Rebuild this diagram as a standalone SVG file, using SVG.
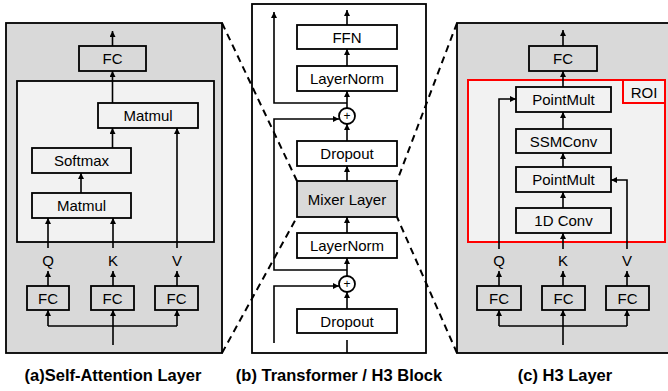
<svg xmlns="http://www.w3.org/2000/svg" width="668" height="391" viewBox="0 0 668 391">
<defs>
<marker id="ah" viewBox="0 0 6 6" refX="6" refY="3" markerWidth="6" markerHeight="6" markerUnits="userSpaceOnUse" orient="auto">
<path d="M0,0 L6,3 L0,6 z" fill="#000"/>
</marker>
<style>
.box{stroke:#000;stroke-width:1.8}
.lt{fill:#f2f2f2}
.dk{fill:#d9d9d9}
.wh{fill:#fff}
.t{font-family:"Liberation Sans",Arial,sans-serif;font-size:15px;fill:#000;text-anchor:middle;dominant-baseline:central}
.cap{font-family:"Liberation Sans",Arial,sans-serif;font-size:16.5px;font-weight:bold;fill:#000;text-anchor:middle}
.c{fill:none;stroke:#000;stroke-width:1.6}
.a{marker-end:url(#ah)}
.dash{fill:none;stroke:#000;stroke-width:2;stroke-dasharray:7 5}
</style>
</defs>

<!-- Panel frames -->
<g id="panel-a-frame">
<rect x="6" y="23" width="216" height="330" class="box dk" stroke-width="2"/>
<rect x="17" y="81" width="197" height="161" class="box lt"/>
</g>
<g id="panel-b-frame">
<rect x="252" y="4" width="174" height="349" class="box wh" stroke-width="2"/>
</g>
<g id="panel-c-frame">
<rect x="457" y="23" width="215" height="330" class="box dk" stroke-width="2"/>
<rect x="468" y="80" width="197" height="162" fill="#f2f2f2" stroke="#ff0000" stroke-width="2"/>
</g>

<!-- connectors -->
<g id="connectors">
<!-- panel a -->
<path class="c a" d="M112.5,46 V31"/>
<path class="c a" d="M112.5,103 V71"/>
<path class="c a" d="M112.5,148 V128"/>
<path class="c a" d="M81,193 V173"/>
<path class="c a" d="M48,248 V218"/>
<path class="c a" d="M113,248 V218"/>
<path class="c a" d="M177,248 V128"/>
<path class="c a" d="M48,286 V271"/>
<path class="c a" d="M113,286 V271"/>
<path class="c a" d="M177,286 V271"/>
<path class="c" d="M48,326 H177"/>
<path class="c a" d="M48,326 V310"/>
<path class="c a" d="M177,326 V310"/>
<path class="c a" d="M113,345 V310"/>
<!-- panel b -->
<path class="c a" d="M347,25 V10"/>
<path class="c a" d="M347,66 V49"/>
<path class="c a" d="M347,108 V91"/>
<path class="c a" d="M347,141 V124"/>
<path class="c a" d="M347,181 V166"/>
<path class="c a" d="M347,233 V217"/>
<path class="c a" d="M347,276 V258"/>
<path class="c a" d="M347,309 V292"/>
<path class="c a" d="M347,103 H274 V12"/>
<path class="c a" d="M347,270 H274 V119 H339"/>
<path class="c a" d="M274,343 V286 H339"/>
<path class="c" d="M347,340 V353"/>
<!-- panel c -->
<path class="c a" d="M563,46 V30"/>
<path class="c a" d="M563,87 V71"/>
<path class="c a" d="M563,129 V112"/>
<path class="c a" d="M563,167 V153"/>
<path class="c a" d="M563,208 V192"/>
<path class="c a" d="M563,249 V233"/>
<path class="c a" d="M499,249 V99 H516"/>
<path class="c a" d="M627,249 V180 H611"/>
<path class="c a" d="M499,286 V271"/>
<path class="c a" d="M563,286 V271"/>
<path class="c a" d="M627,286 V271"/>
<path class="c" d="M499,326 H627"/>
<path class="c a" d="M499,326 V310"/>
<path class="c a" d="M627,326 V310"/>
<path class="c a" d="M563,345 V310"/>
<!-- zoom dashed lines -->
<path class="dash" d="M222,23 L297,181"/>
<path class="dash" d="M222,353 L297,217"/>
<path class="dash" d="M457,23 L397,181"/>
<path class="dash" d="M457,353 L397,217"/>
</g>

<!-- Panel a nodes -->
<g id="a-fc-out"><rect x="79" y="46" width="67" height="25" class="box dk"/><text x="112.5" y="58.5" class="t">FC</text></g>
<g id="a-matmul2"><rect x="98" y="103" width="100" height="25" class="box lt"/><text x="148" y="115.5" class="t">Matmul</text></g>
<g id="a-softmax"><rect x="32" y="148" width="99" height="25" class="box lt"/><text x="81.5" y="160.5" class="t">Softmax</text></g>
<g id="a-matmul1"><rect x="32" y="193" width="99" height="25" class="box lt"/><text x="81.5" y="205.5" class="t">Matmul</text></g>
<g id="a-q"><text x="48" y="260" class="t">Q</text></g>
<g id="a-k"><text x="113" y="260" class="t">K</text></g>
<g id="a-v"><text x="177" y="260" class="t">V</text></g>
<g id="a-fc-q"><rect x="27" y="286" width="42" height="24" class="box dk"/><text x="48" y="298" class="t">FC</text></g>
<g id="a-fc-k"><rect x="91" y="286" width="43" height="24" class="box dk"/><text x="112.5" y="298" class="t">FC</text></g>
<g id="a-fc-v"><rect x="155" y="286" width="43" height="24" class="box dk"/><text x="176.5" y="298" class="t">FC</text></g>

<!-- Panel b nodes -->
<g id="b-ffn"><rect x="297" y="25" width="100" height="24" class="box wh"/><text x="347" y="37" class="t">FFN</text></g>
<g id="b-ln2"><rect x="297" y="66" width="100" height="25" class="box wh"/><text x="347" y="78.5" class="t">LayerNorm</text></g>
<g id="b-add2"><circle cx="347" cy="116" r="8" class="box wh"/><text x="347" y="116" class="t" style="font-size:12px">+</text></g>
<g id="b-drop2"><rect x="297" y="141" width="100" height="25" class="box wh"/><text x="347" y="153.5" class="t">Dropout</text></g>
<g id="b-mixer"><rect x="297" y="181" width="100" height="36" class="box dk"/><text x="347" y="199" class="t">Mixer Layer</text></g>
<g id="b-ln1"><rect x="297" y="233" width="100" height="25" class="box wh"/><text x="347" y="245.5" class="t">LayerNorm</text></g>
<g id="b-add1"><circle cx="347" cy="284" r="8" class="box wh"/><text x="347" y="284" class="t" style="font-size:12px">+</text></g>
<g id="b-drop1"><rect x="297" y="309" width="100" height="24" class="box wh"/><text x="347" y="321" class="t">Dropout</text></g>

<!-- Panel c nodes -->
<g id="c-fc-out"><rect x="529" y="46" width="68" height="25" class="box dk"/><text x="563" y="58.5" class="t">FC</text></g>
<g id="c-roi"><rect x="623" y="80" width="42" height="23" fill="none" stroke="#ff0000" stroke-width="2"/><text x="644" y="92" class="t">ROI</text></g>
<g id="c-pm2"><rect x="516" y="87" width="95" height="25" class="box lt"/><text x="563.5" y="99.5" class="t">PointMult</text></g>
<g id="c-ssm"><rect x="516" y="129" width="95" height="24" class="box lt"/><text x="563.5" y="141" class="t">SSMConv</text></g>
<g id="c-pm1"><rect x="516" y="167" width="95" height="25" class="box lt"/><text x="563.5" y="179.5" class="t">PointMult</text></g>
<g id="c-conv"><rect x="516" y="208" width="95" height="25" class="box lt"/><text x="563.5" y="220.5" class="t">1D Conv</text></g>
<g id="c-q"><text x="499" y="260" class="t">Q</text></g>
<g id="c-k"><text x="563" y="260" class="t">K</text></g>
<g id="c-v"><text x="627" y="260" class="t">V</text></g>
<g id="c-fc-q"><rect x="477" y="286" width="44" height="24" class="box dk"/><text x="499" y="298" class="t">FC</text></g>
<g id="c-fc-k"><rect x="542" y="286" width="43" height="24" class="box dk"/><text x="563.5" y="298" class="t">FC</text></g>
<g id="c-fc-v"><rect x="606" y="286" width="43" height="24" class="box dk"/><text x="627.5" y="298" class="t">FC</text></g>

<!-- captions -->
<g id="captions">
<text x="113" y="381" class="cap">(a)Self-Attention Layer</text>
<text x="339" y="381" class="cap">(b) Transformer / H3 Block</text>
<text x="565" y="381" class="cap">(c) H3 Layer</text>
</g>
</svg>
